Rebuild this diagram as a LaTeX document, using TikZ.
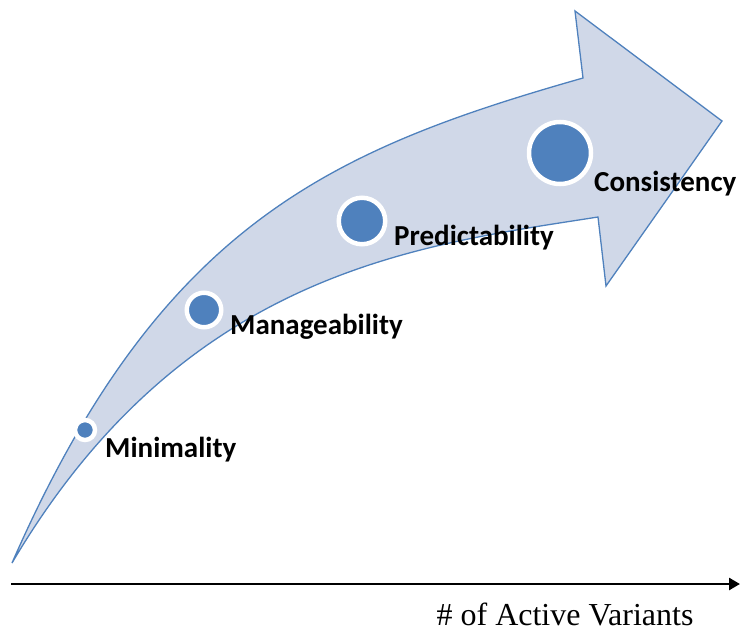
\documentclass[tikz,border=0pt]{standalone}
\usepackage{fontspec}
\usepackage{tikz}
\usetikzlibrary{arrows.meta}
\setmainfont{Liberation Serif}
\newfontfamily\calfont{Carlito}
\definecolor{accentblue}{RGB}{79,129,189}
\definecolor{arrowfill}{RGB}{208,216,232}

\begin{document}
\begin{tikzpicture}[x=1pt, y=-1pt,
        stagedot/.style={circle, fill=accentblue, draw=white, line width=4.5pt, inner sep=0pt},
        stagelabel/.style={anchor=base west, inner sep=0pt, font=\calfont\bfseries\fontsize{29}{30}\selectfont}]
            \useasboundingbox (0,0) rectangle (740,632);
            \draw[accentblue, fill=arrowfill, line width=1.3pt, line join=miter]
                (12,563) .. controls (160,225) and (330,150) .. (583,78)
                -- (575,11) -- (722,121) -- (606,286) -- (598,217)
                .. controls (420,245) and (185,270) .. (12,563) -- cycle;
            \node[stagedot, minimum size=20pt] (mini) at (85,430) {};
            \node[stagedot, minimum size=34.5pt] (manage) at (204,310) {};
            \node[stagedot, minimum size=46.5pt] (predict) at (362,221) {};
            \node[stagedot, minimum size=62pt] (consist) at (560,153) {};
            \node[stagelabel] (minilabel) at (105,457) {Minimality};
            \node[stagelabel] (managelabel) at (230,334) {Manageability};
            \node[stagelabel] (predictlabel) at (394,245) {Predictability};
            \node[stagelabel] (consistlabel) at (594,191) {Consistency};
            \coordinate (axisstart) at (11,584);
            \coordinate (axisend) at (740,584);
            \draw[-{Triangle[length=11pt, width=12pt]}, line width=2.6pt] (axisstart) -- (axisend);
            \node[anchor=base, inner sep=0pt, font=\fontsize{32}{34}\selectfont] (axislabel) at (565,625) {\# of Active Variants};
        \end{tikzpicture}
\end{document}
